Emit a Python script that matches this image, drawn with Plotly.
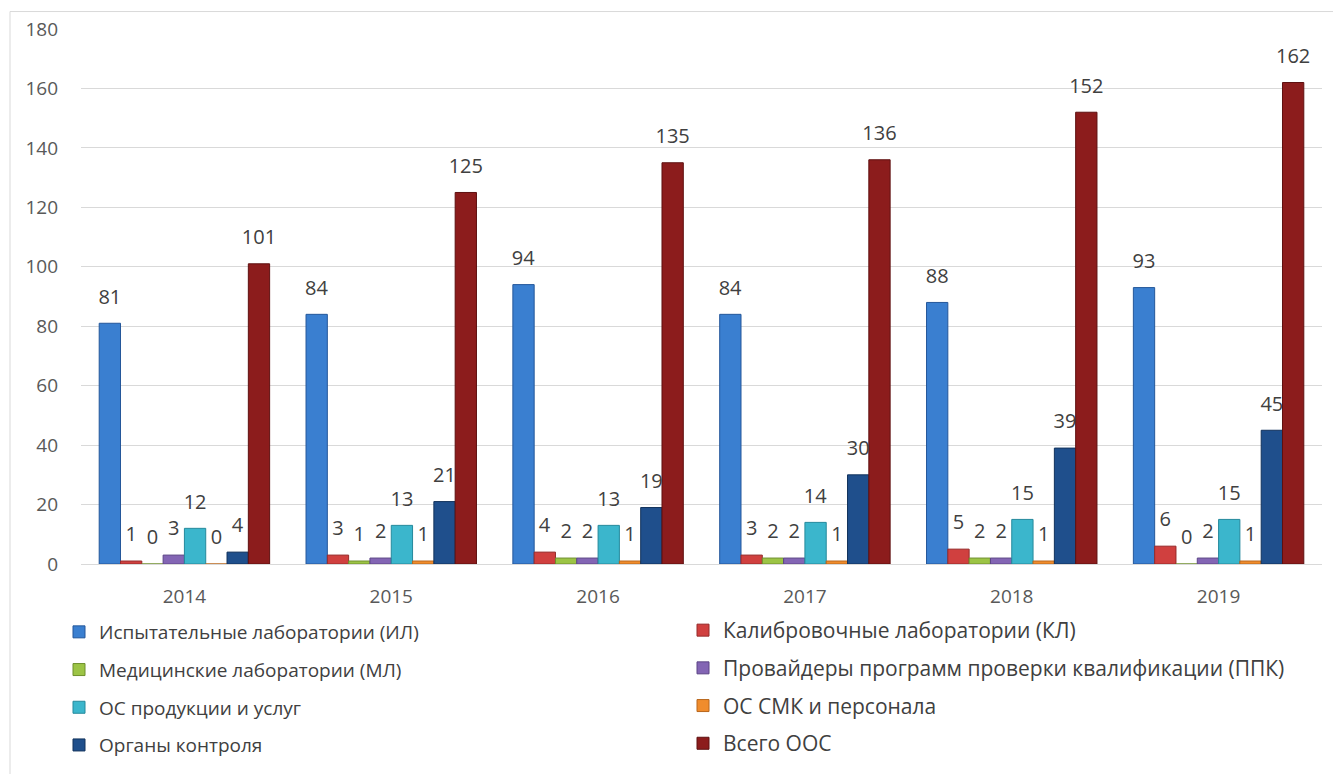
import plotly.graph_objects as go

years = ["2014", "2015", "2016", "2017", "2018", "2019"]

series_names = [
    "Испытательные лаборатории (ИЛ)",
    "Калибровочные лаборатории (КЛ)",
    "Медицинские лаборатории (МЛ)",
    "Провайдеры программ проверки квалификации (ППК)",
    "ОС продукции и услуг",
    "ОС СМК и персонала",
    "Органы контроля",
    "Всего ООС",
]

il = [81, 84, 94, 84, 88, 93]
kl = [1, 3, 4, 3, 5, 6]
ml = [0, 1, 2, 2, 2, 0]
ppk = [3, 2, 2, 2, 2, 2]
os_prod = [12, 13, 13, 14, 15, 15]
os_smk = [0, 1, 1, 1, 1, 1]
ok = [4, 21, 19, 30, 39, 45]
total = [101, 125, 135, 136, 152, 162]

values = [il, kl, ml, ppk, os_prod, os_smk, ok, total]
colors = ["#3a7fd0", "#d0403f", "#9cc445", "#8365b4", "#3bb6cc", "#f08c2c", "#1f4f8c", "#8c1c1c"]
edges = ["#24579a", "#962b2b", "#6e8f2c", "#5c4586", "#24899c", "#b8661c", "#12325c", "#5e1010"]
legend_ids = ["legend", "legend2", "legend", "legend2", "legend", "legend2", "legend", "legend2"]

FONT = "Open Sans"
W, H = 1333, 766  # page body adds an 8px offset
ML, MR, MT, MB = 73, 19, 21, 209
PW, PH = W - ML - MR, H - MT - MB
LABEL_GAP = 3.6  # gap between bar top and its value label, in axis units

fig = go.Figure()
for i, (name, vals) in enumerate(zip(series_names, values)):
    fig.add_trace(go.Bar(
        x=years, y=vals, name=name, offsetgroup=str(i),
        marker=dict(color=colors[i], line=dict(color=edges[i], width=1)),
        legend=legend_ids[i], legendgroup=f"g{i}",
        hovertemplate="%{x}: %{y}<extra>" + name + "</extra>",
    ))
for i, vals in enumerate(values):
    # transparent spacer carrying the value label a little above the bar
    fig.add_trace(go.Bar(
        x=years, y=[LABEL_GAP] * len(vals), base=vals, offsetgroup=str(i),
        marker=dict(color="rgba(0,0,0,0)", line=dict(width=0)),
        text=[str(v) for v in vals], textposition="outside",
        textfont=dict(family=FONT, size=20, color="#404040"),
        constraintext="none", cliponaxis=False,
        showlegend=False, hoverinfo="skip", legendgroup=f"g{i}",
    ))

legend_common = dict(
    orientation="v", xanchor="left", yanchor="bottom",
    bgcolor="rgba(0,0,0,0)", itemwidth=30,
)
leg_y = (MT + PH - 756) / PH

fig.update_layout(
    width=W, height=H,
    margin=dict(l=ML, r=MR, t=MT, b=MB),
    paper_bgcolor="white", plot_bgcolor="white",
    barmode="group", bargap=0.176, bargroupgap=0,
    font=dict(family=FONT, color="#595959"),
    showlegend=True,
    legend=dict(x=(51 - ML) / PW, y=leg_y, tracegroupgap=10,
                font=dict(family=FONT, size=19, color="#404040"), **legend_common),
    legend2=dict(x=(675 - ML) / PW, y=leg_y, tracegroupgap=7.4,
                 font=dict(family=FONT, size=21, color="#404040"), **legend_common),
    xaxis=dict(
        showgrid=False, showline=True, linecolor="#d9d9d9", linewidth=1,
        ticks="", tickfont=dict(family=FONT, size=19, color="#595959"),
        ticklabelstandoff=15, automargin=False,
    ),
    yaxis=dict(
        range=[0, 180], dtick=20, showgrid=True, gridcolor="#d9d9d9", gridwidth=1,
        zeroline=False, showline=False, ticks="",
        tickfont=dict(family=FONT, size=19, color="#595959"),
        ticklabelstandoff=22, automargin=False,
    ),
    shapes=[dict(
        type="rect", xref="paper", yref="paper",
        x0=(2 - ML) / PW, x1=1.2, y0=-1.0, y1=(MT + PH - 3.5) / PH,
        line=dict(color="#d9d9d9", width=1), fillcolor="rgba(0,0,0,0)", layer="below",
    )],
)

fig.write_html("out.html")
